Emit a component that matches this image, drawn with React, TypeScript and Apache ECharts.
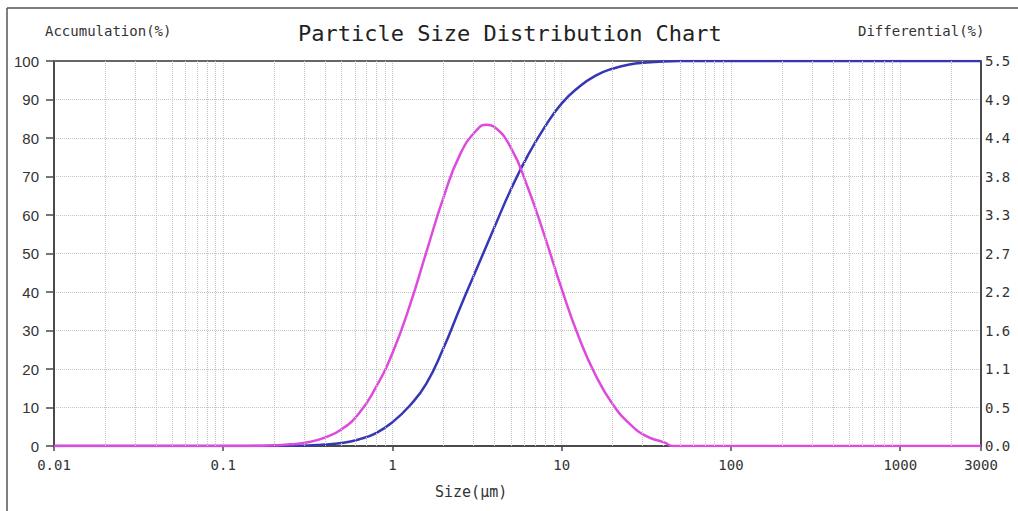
import React, { useEffect, useRef } from "react";
import * as echarts from "echarts";

// Particle size (µm) vs cumulative percentage (left axis)
const accumulation: [number, number][] = [
  [0.01, 0], [0.1, 0], [0.2, 0.02], [0.251, 0.05], [0.316, 0.15], [0.398, 0.36],
  [0.501, 0.8], [0.631, 1.7], [0.794, 3.3], [1, 6.2], [1.259, 10.4], [1.585, 16.2],
  [1.995, 25.3], [2.512, 36], [3.162, 46.3], [3.981, 56.6], [5.012, 66.7], [6.31, 75.5],
  [7.943, 82.9], [10, 89], [12.59, 93.2], [15.85, 96.2], [19.95, 98], [25.12, 99.1],
  [31.62, 99.6], [39.81, 99.9], [50, 100], [100, 100], [3000, 100],
];

// Particle size (µm) vs differential percentage (right axis)
const differential: [number, number][] = [
  [0.01, 0], [0.05, 0], [0.1, 0], [0.126, 0.001], [0.158, 0.003], [0.2, 0.009],
  [0.251, 0.024], [0.316, 0.055], [0.398, 0.12], [0.501, 0.24], [0.631, 0.46],
  [0.794, 0.83], [1, 1.33], [1.259, 1.99], [1.585, 2.77], [1.995, 3.54], [2.512, 4.17],
  [3.162, 4.52], [3.6, 4.59], [3.981, 4.56], [5.012, 4.26], [6.31, 3.69], [7.943, 2.99],
  [10, 2.24], [12.59, 1.56], [15.85, 1.01], [19.95, 0.6], [25.12, 0.32], [31.62, 0.14],
  [39.81, 0.055], [41.7, 0.035], [44.7, 0], [60, 0], [100, 0], [3000, 0],
];

const minorGridSizes: number[] = [
  0.02, 0.03, 0.04, 0.05, 0.06, 0.07, 0.08, 0.09,
  0.2, 0.3, 0.4, 0.5, 0.6, 0.7, 0.8, 0.9,
  2, 3, 4, 5, 6, 7, 8, 9,
  20, 30, 40, 50, 60, 70, 80, 90,
  200, 300, 400, 500, 600, 700, 800, 900,
  2000,
];

const chartTitle = "Particle Size Distribution Chart";
const leftAxisTitle = "Accumulation(%)";
const rightAxisTitle = "Differential(%)";
const xAxisTitle = "Size(μm)";

const MONO = '"DejaVu Sans Mono", "Liberation Mono", monospace';
const SANS = '"Liberation Sans", Arial, sans-serif';
const GRID_COLOR = "#c4c4c4";
const AXIS_COLOR = "#4a4a4a";

export default function App() {
  const ref = useRef<HTMLDivElement>(null);

  useEffect(() => {
    if (!ref.current) return;
    const chart = echarts.init(ref.current, undefined, { renderer: "svg" });

    const option: any = {
      animation: false,
      backgroundColor: "#ffffff",
      grid: { left: 54, right: 37, top: 61, bottom: 65, containLabel: false },
      xAxis: [
        {
          type: "log",
          logBase: 10,
          min: 0.01,
          max: 3000,
          position: "bottom",
          axisLine: { show: true, onZero: false, lineStyle: { color: AXIS_COLOR, width: 2 } },
          axisTick: { show: true, length: 5, inside: false, lineStyle: { color: AXIS_COLOR, width: 1.5 } },
          axisLabel: {
            margin: 12,
            color: "#333",
            fontFamily: MONO,
            fontSize: 14,
            formatter: (v: number) => String(Number(Number(v).toPrecision(4))),
          },
          splitLine: { show: true, lineStyle: { color: GRID_COLOR, type: "dotted", width: 1 } },
        },
        {
          type: "log",
          logBase: 10,
          min: 0.01,
          max: 3000,
          position: "top",
          axisLine: { show: true, onZero: false, lineStyle: { color: "#666", width: 2 } },
          axisTick: { show: false },
          axisLabel: { show: false },
          splitLine: { show: false },
        },
      ],
      yAxis: [
        {
          type: "value",
          min: 0,
          max: 100,
          interval: 10,
          position: "left",
          axisLine: { show: true, onZero: false, lineStyle: { color: AXIS_COLOR, width: 2 } },
          axisTick: { show: true, length: 8, inside: false, lineStyle: { color: AXIS_COLOR, width: 1.5 } },
          axisLabel: { margin: 15, color: "#333", fontFamily: SANS, fontSize: 15 },
          splitLine: { show: true, lineStyle: { color: GRID_COLOR, type: "dotted", width: 1 } },
        },
        {
          type: "value",
          min: 0,
          max: 5.5,
          interval: 0.55,
          position: "right",
          axisLine: { show: true, onZero: false, lineStyle: { color: AXIS_COLOR, width: 2 } },
          axisTick: { show: false },
          axisLabel: {
            margin: 4,
            color: "#333",
            fontFamily: MONO,
            fontSize: 14,
            formatter: (v: number) => (Math.floor(v * 10 + 1e-6) / 10).toFixed(1),
          },
          splitLine: { show: false },
        },
      ],
      graphic: [
        { type: "line", shape: { x1: 7, y1: 8, x2: 7, y2: 511 }, style: { stroke: "#555", lineWidth: 1.5 } },
        { type: "line", shape: { x1: 7, y1: 8, x2: 1018, y2: 8 }, style: { stroke: "#555", lineWidth: 1.5 } },
        {
          type: "text", x: 298, y: 33,
          style: { text: chartTitle, font: `22px ${MONO}`, fill: "#222", verticalAlign: "middle" },
        },
        {
          type: "text", x: 45, y: 31,
          style: { text: leftAxisTitle, font: `14px ${MONO}`, fill: "#333", verticalAlign: "middle" },
        },
        {
          type: "text", x: 858, y: 31,
          style: { text: rightAxisTitle, font: `14px ${MONO}`, fill: "#333", verticalAlign: "middle" },
        },
        {
          type: "text", x: 435, y: 492,
          style: { text: xAxisTitle, font: `15px ${MONO}`, fill: "#333", verticalAlign: "middle" },
        },
      ],
      series: [
        {
          name: "grid",
          type: "line",
          xAxisIndex: 0,
          yAxisIndex: 0,
          data: [],
          silent: true,
          markLine: {
            silent: true,
            symbol: ["none", "none"],
            label: { show: false },
            lineStyle: { color: GRID_COLOR, type: "dotted", width: 1 },
            emphasis: { disabled: true },
            data: minorGridSizes.map((s) => ({ xAxis: s })),
          },
        },
        {
          name: "Accumulation",
          type: "line",
          xAxisIndex: 0,
          yAxisIndex: 0,
          data: accumulation,
          smooth: 0.5,
          symbol: "none",
          lineStyle: { color: "#3737b6", width: 2.5 },
          itemStyle: { color: "#3737b6" },
        },
        {
          name: "Differential",
          type: "line",
          xAxisIndex: 0,
          yAxisIndex: 1,
          data: differential,
          smooth: 0.5,
          symbol: "none",
          lineStyle: { color: "#df4ade", width: 2.5 },
          itemStyle: { color: "#df4ade" },
        },
      ],
    };

    chart.setOption(option);
    return () => chart.dispose();
  }, []);

  return (
    <div
      ref={ref}
      style={{ position: "fixed", left: 0, top: 0, width: 1018, height: 511, background: "#fff" }}
    />
  );
}
